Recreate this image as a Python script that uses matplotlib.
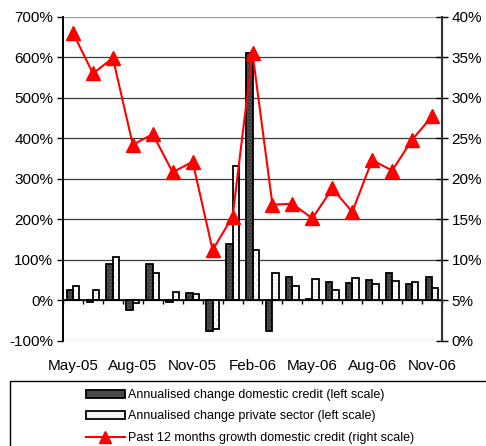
import matplotlib
matplotlib.use("Agg")
import matplotlib.pyplot as plt
import numpy as np
from matplotlib.patches import Patch, Rectangle
from matplotlib.lines import Line2D
from matplotlib.ticker import FuncFormatter, FixedLocator

plt.rcParams['font.family'] = ['Liberation Sans', 'DejaVu Sans']

# monthly data, May-05 .. Nov-06
months = ['May-05', 'Jun-05', 'Jul-05', 'Aug-05', 'Sep-05', 'Oct-05', 'Nov-05',
          'Dec-05', 'Jan-06', 'Feb-06', 'Mar-06', 'Apr-06', 'May-06', 'Jun-06',
          'Jul-06', 'Aug-06', 'Sep-06', 'Oct-06', 'Nov-06']
domestic_credit = [26, -4, 90, -24, 90, -5, 19, -76, 138, 611, -75, 58,
                   2, 44, 42, 49, 66, 41, 57]
private_sector = [35, 24, 106, -7, 67, 20, 15, -72, 332, 125, 68, 34,
                  53, 24, 55, 39, 47, 45, 31]
growth_12m = [38.0, 33.0, 34.9, 24.2, 25.5, 20.8, 22.1, 11.2, 15.3, 35.5,
              16.8, 16.9, 15.1, 18.8, 15.9, 22.3, 21.0, 24.8, 27.7]
label_months = ['May-05', 'Aug-05', 'Nov-05', 'Feb-06', 'May-06', 'Aug-06', 'Nov-06']

legend_labels = ['Annualised change domestic credit (left scale)',
                 'Annualised change private sector (left scale)',
                 'Past 12 months growth domestic credit (right scale)']

x = np.arange(len(months))
w = 0.32

fig = plt.figure(figsize=(4.86, 4.46), dpi=100)
ax = fig.add_axes([63 / 486, 1 - 340.7 / 446, (442 - 63) / 486, (340.7 - 16.7) / 446])
ax.set_axisbelow(True)

# bars: hatched fill first, outline drawn on top
plt.rcParams['hatch.color'] = '#202020'
plt.rcParams['hatch.linewidth'] = 0.4
ax.bar(x - w / 2, domestic_credit, w, color='#4a4a4a', hatch='.....', linewidth=0, zorder=2)
ax.bar(x - w / 2, domestic_credit, w, fill=False, edgecolor='black', linewidth=1.3, zorder=3)
plt.rcParams['hatch.color'] = '#c8c8c8'
ax.bar(x + w / 2, private_sector, w, color='white', hatch='.....', linewidth=0, zorder=2)
ax.bar(x + w / 2, private_sector, w, fill=False, edgecolor='black', linewidth=1.3, zorder=3)

ax.set_xlim(-0.5, len(months) - 0.5)
ax.set_ylim(-100, 700)
ax.set_yticks(np.arange(-100, 701, 100))
ax.yaxis.set_major_formatter(FuncFormatter(lambda v, p: f'{v:.0f}%'))
ax.tick_params(axis='y', direction='out', length=4, width=1, labelsize=11, pad=3)
ax.grid(axis='y', color='#3a3a3a', linewidth=0.9)
gl = ax.yaxis.get_gridlines()
gl[0].set_color('#9a9a9a')
gl[-1].set_color('#9a9a9a')

# category axis sits on the zero line, ticks between months
ax.spines['bottom'].set_position(('data', 0))
ax.spines['bottom'].set_linewidth(1.2)
ax.spines['top'].set_visible(False)
ax.spines['left'].set_linewidth(1.4)
ax.xaxis.set_major_locator(FixedLocator(np.arange(-0.5, len(months), 1.0)))
ax.tick_params(axis='x', direction='out', length=3, width=1, labelbottom=False)

sec = ax.secondary_xaxis('bottom')
sec.set_xticks([months.index(m) for m in label_months])
sec.set_xticklabels(label_months)
sec.tick_params(length=0, labelsize=11, pad=13)
sec.spines['bottom'].set_visible(False)

ax2 = ax.twinx()
ax2.plot(x, growth_12m, color='#ff0000', linewidth=1.5, marker='^', markersize=9.5,
         markeredgecolor='#ff0000', zorder=5)
ax2.set_ylim(0, 40)
ax2.set_yticks(np.arange(0, 41, 5))
ax2.yaxis.set_major_formatter(FuncFormatter(lambda v, p: f'{v:.0f}%'))
ax2.tick_params(axis='y', direction='inout', length=8, width=1, labelsize=11, pad=3)
for s in ['top', 'bottom', 'left']:
    ax2.spines[s].set_visible(False)
ax2.spines['right'].set_color('#333333')
ax2.spines['right'].set_linewidth(1.5)

handles = [Patch(facecolor='#4a4a4a', edgecolor='black', linewidth=1.3),
           Patch(facecolor='#f2f2f2', edgecolor='black', linewidth=1.3),
           Line2D([], [], color='#ff0000', linewidth=1.5, marker='^', markersize=8)]
fig.legend(handles, legend_labels, loc='upper left', bbox_to_anchor=(86 / 486, 1 - 389 / 446),
           frameon=False, fontsize=9, handlelength=3.1, handleheight=0.6,
           handletextpad=0.25, labelspacing=0.75, borderpad=0, borderaxespad=0)
fig.add_artist(Rectangle((10 / 486, -0.1), 1.0, 0.1 + 1 - 381 / 446, transform=fig.transFigure,
                         fill=False, edgecolor='black', linewidth=1))

fig.savefig('out.png', dpi=100)
